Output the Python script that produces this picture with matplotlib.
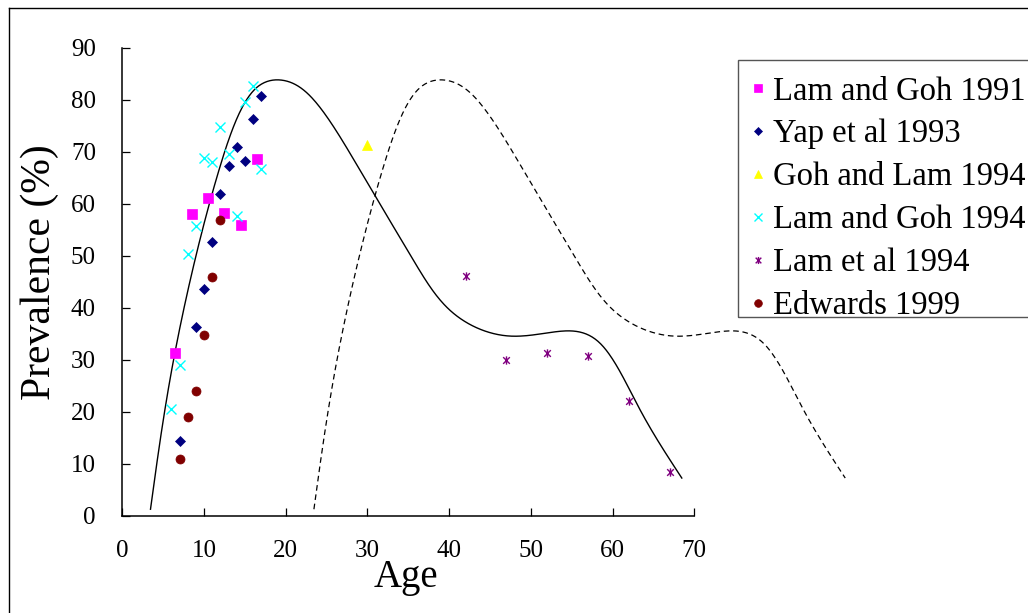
import numpy as np
import matplotlib
matplotlib.use("Agg")
import matplotlib.pyplot as plt
from matplotlib.path import Path
from matplotlib.patches import Rectangle
from matplotlib.lines import Line2D

# ---- observed prevalence by age, per study ----
lam_goh_1991_age = [6.5, 8.5, 10.5, 12.5, 14.5, 16.5]
lam_goh_1991_prev = [31.4, 58.1, 61.1, 58.2, 55.9, 68.6]

yap_1993_age = [7, 9, 10, 11, 12, 13, 14, 15, 16, 17]
yap_1993_prev = [14.5, 36.3, 43.6, 52.7, 61.9, 67.3, 70.9, 68.2, 76.3, 80.8]

goh_lam_1994_age = [30]
goh_lam_1994_prev = [71.3]

lam_goh_1994_age = [6, 7, 8, 9, 10, 11, 12, 13, 14, 15, 16, 17]
lam_goh_1994_prev = [20.5, 29.0, 50.3, 55.8, 68.8, 68.1, 74.9, 69.6, 57.6, 79.6, 82.7, 66.7]

lam_1994_age = [42, 47, 52, 57, 62, 67]
lam_1994_prev = [46.2, 30.0, 31.3, 30.8, 22.2, 8.5]

edwards_1999_age = [7, 8, 9, 10, 11, 12]
edwards_1999_prev = [11.0, 19.0, 24.0, 34.9, 46.0, 57.0]

# ---- smoothed trend curves (knots) ----
trend_age = [3.45, 6.45, 11.96, 16.45, 19.6, 22.97, 29.09, 35.62, 40.51,
             47.45, 54.39, 58.48, 63.37, 68.47]
trend_prev = [1.3, 31.5, 67.2, 82.4, 83.8, 80.8, 66.5, 49.2, 39.0,
              34.6, 35.6, 33.2, 20.4, 7.3]

shifted_age = [23.45, 26.45, 31.96, 36.45, 39.6, 42.97, 49.09, 55.62, 60.51,
               67.45, 74.39, 78.48, 83.37, 88.47]
shifted_prev = [1.3, 31.5, 67.2, 82.4, 83.8, 80.8, 66.5, 49.2, 39.0,
                34.6, 35.6, 33.2, 20.4, 7.3]

legend_labels = ["Lam and Goh 1991", "Yap et al 1993", "Goh and Lam 1994",
                 "Lam and Goh 1994", "Lam et al 1994", "Edwards 1999"]

SERIF = "Liberation Serif"
plt.rcParams["font.family"] = [SERIF, "DejaVu Serif"]


def natural_spline(t, y, tt):
    """Evaluate a natural cubic spline through (t, y) at tt."""
    t = np.asarray(t, float)
    y = np.asarray(y, float)
    n = len(t)
    h = np.diff(t)
    A = np.zeros((n, n))
    b = np.zeros(n)
    A[0, 0] = A[-1, -1] = 1.0
    for i in range(1, n - 1):
        A[i, i - 1] = h[i - 1]
        A[i, i] = 2 * (h[i - 1] + h[i])
        A[i, i + 1] = h[i]
        b[i] = 6 * ((y[i + 1] - y[i]) / h[i] - (y[i] - y[i - 1]) / h[i - 1])
    M = np.linalg.solve(A, b)
    idx = np.clip(np.searchsorted(t, tt) - 1, 0, n - 2)
    t0, t1 = t[idx], t[idx + 1]
    hh = t1 - t0
    a = (t1 - tt) / hh
    c = (tt - t0) / hh
    return (a * y[idx] + c * y[idx + 1]
            + ((a ** 3 - a) * M[idx] + (c ** 3 - c) * M[idx + 1]) * hh ** 2 / 6)


def smooth_curve(ax, xs, ys, samples=600):
    """Parametric spline through the knots, fitted in display space."""
    P = ax.transData.transform(np.column_stack([xs, ys]))
    d = np.sqrt(np.linalg.norm(np.diff(P, axis=0), axis=1))
    t = np.concatenate([[0], np.cumsum(d)])
    tt = np.linspace(0, t[-1], samples)
    Q = np.column_stack([natural_spline(t, P[:, 0], tt),
                         natural_spline(t, P[:, 1], tt)])
    Q = ax.transData.inverted().transform(Q)
    return Q[:, 0], Q[:, 1]


W, H = 1028, 613
fig = plt.figure(figsize=(W / 100, H / 100), dpi=100)
ax = fig.add_axes([122.3 / W, 1 - 516 / H, 572 / W, 468 / H])
ax.set_xlim(0, 70)
ax.set_ylim(0, 90)

# scatter series
ast = Path([(-1, -1), (1, 1), (-1, 1), (1, -1), (0, -1.25), (0, 1.25)],
           [Path.MOVETO, Path.LINETO, Path.MOVETO, Path.LINETO, Path.MOVETO, Path.LINETO])

series = [
    (lam_goh_1991_age, lam_goh_1991_prev, dict(marker="s", color="#FF00FF", ms=6.5)),
    (yap_1993_age, yap_1993_prev, dict(marker="D", color="#000080", ms=4.8)),
    (goh_lam_1994_age, goh_lam_1994_prev, dict(marker="^", color="#FFFF00", ms=7)),
    (lam_goh_1994_age, lam_goh_1994_prev, dict(marker="x", color="#00FFFF", ms=6.5, mew=1.0)),
    (lam_1994_age, lam_1994_prev, dict(marker=ast, color="#800080", ms=6, mew=1.0)),
    (edwards_1999_age, edwards_1999_prev, dict(marker="o", color="#800000", ms=6.5)),
]

handles = []
for label, (xs, ys, st) in zip(legend_labels, series):
    kw = dict(linestyle="none", marker=st["marker"], markersize=st["ms"],
              markerfacecolor=st["color"], markeredgecolor=st["color"],
              markeredgewidth=st.get("mew", 0.5))
    ax.plot(xs, ys, clip_on=False, zorder=3, **kw)
    hkw = dict(kw)
    hkw["markersize"] = st["ms"] * 0.85
    handles.append(Line2D([], [], label=label, **hkw))

# trend curves
cx, cy = smooth_curve(ax, trend_age, trend_prev)
ax.plot(cx, cy, color="black", lw=1.0, clip_on=False, zorder=2)
sx, sy = smooth_curve(ax, shifted_age, shifted_prev)
ax.plot(sx, sy, color="black", lw=0.9, linestyle=(0, (4.5, 3.0)),
        clip_on=False, zorder=2)

# axes styling
ax.set_xticks(range(0, 71, 10))
ax.set_yticks(range(0, 91, 10))
for side in ("top", "right"):
    ax.spines[side].set_visible(False)
for side in ("left", "bottom"):
    ax.spines[side].set_linewidth(1.1)
ax.tick_params(direction="in", length=5.5, width=0.9, labelsize=18)
ax.tick_params(axis="x", pad=17)
ax.tick_params(axis="y", pad=19)

fig.text(406 / W, 1 - 577 / H, "Age", ha="center", va="center", fontsize=28)
fig.text(40 / W, 1 - 272 / H, "Prevalence (%)", ha="center", va="center",
         rotation=90, fontsize=30)

leg = fig.legend(handles=handles, loc="upper left",
                 bbox_to_anchor=(737 / W, 1 - 63 / H), borderaxespad=0,
                 fontsize=23.5, frameon=False, handlelength=0.5,
                 handletextpad=0.2, labelspacing=0.38, borderpad=0.4)

# legend frame
fig.add_artist(Rectangle((738 / W, 1 - 317 / H), 320 / W, 257 / H,
                         transform=fig.transFigure, facecolor="none",
                         edgecolor="#555555", lw=1.0, clip_on=False))

# outer frame of the chart area
fig.add_artist(Line2D([9 / W, 1.0], [1 - 8 / H, 1 - 8 / H], color="black",
                      lw=1.0, transform=fig.transFigure))
fig.add_artist(Line2D([9 / W, 9 / W], [0.0, 1 - 8 / H], color="black",
                      lw=1.0, transform=fig.transFigure))

fig.savefig("out.png", dpi=100)
